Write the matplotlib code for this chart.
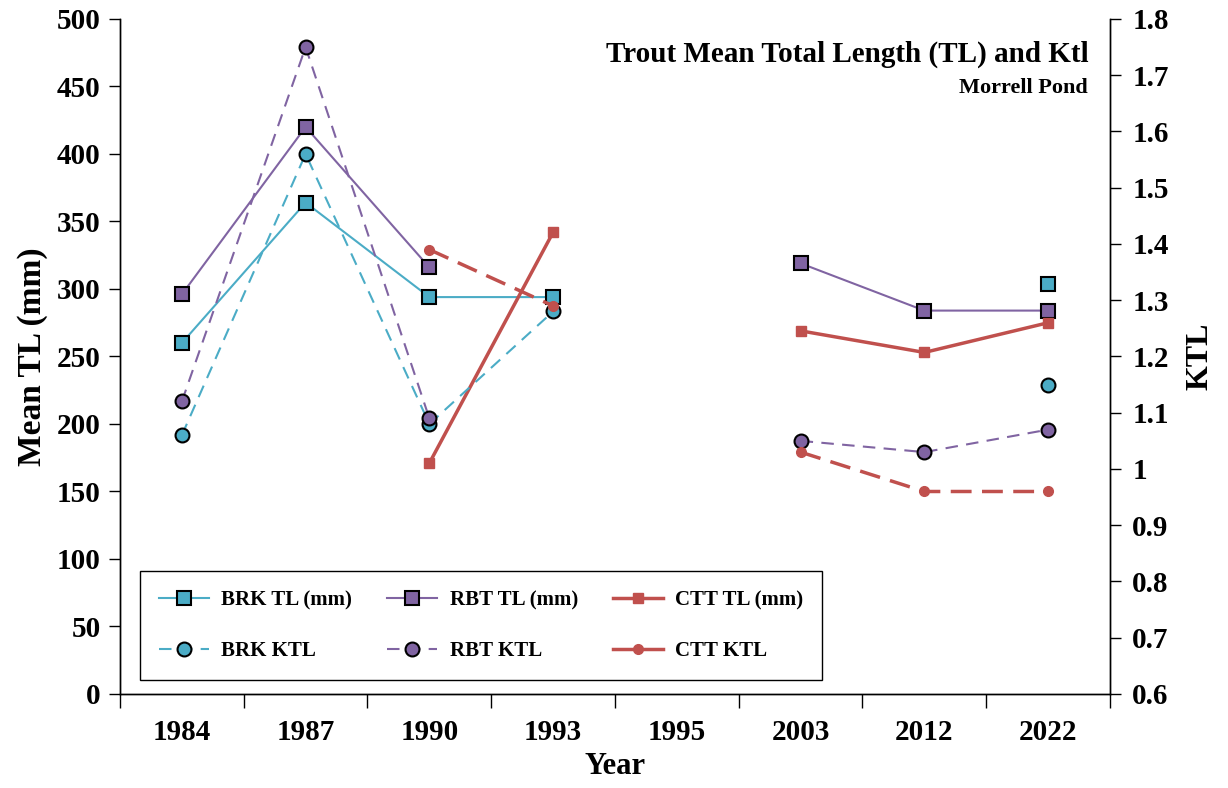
import numpy as np
import matplotlib
matplotlib.use("Agg")
import matplotlib.pyplot as plt
from matplotlib.lines import Line2D
from matplotlib.ticker import MultipleLocator, FuncFormatter

plt.rcParams["font.family"] = ["Liberation Serif", "DejaVu Serif"]
plt.rcParams["font.weight"] = "bold"

years = ["1984", "1987", "1990", "1993", "1995", "2003", "2012", "2022"]
nan = np.nan

# mean total length (mm), left axis
brk_tl = [260, 364, 294, 294, nan, nan, nan, 304]
rbt_tl = [296, 420, 316, nan, nan, 319, 284, 284]
ctt_tl = [nan, nan, 171, 342, nan, 269, 253, 275]

# condition factor KTL, right axis
brk_ktl = [1.06, 1.56, 1.08, 1.28, nan, nan, nan, 1.15]
rbt_ktl = [1.12, 1.75, 1.09, nan, nan, 1.05, 1.03, 1.07]
ctt_ktl = [nan, nan, 1.39, 1.29, nan, 1.03, 0.96, 0.96]

BRK = "#4BACC6"
RBT = "#8064A2"
CTT = "#C0504D"

fig = plt.figure(figsize=(12.28, 7.88), dpi=100)
ax = fig.add_axes([0.0977, 0.1193, 0.8062, 0.8566])
ax2 = ax.twinx()

x = np.arange(len(years))

ax.plot(x, brk_tl, color=BRK, lw=1.5, marker="s", ms=10, mfc=BRK, mec="black", mew=1.5)
ax.plot(x, rbt_tl, color=RBT, lw=1.5, marker="s", ms=10, mfc=RBT, mec="black", mew=1.5)
ax.plot(x, ctt_tl, color=CTT, lw=2.5, marker="s", ms=7, mfc=CTT, mec=CTT)

ax2.plot(x, brk_ktl, color=BRK, lw=1.5, ls=(0, (6, 4)), marker="o", ms=10, mfc=BRK, mec="black", mew=1.5)
ax2.plot(x, rbt_ktl, color=RBT, lw=1.5, ls=(0, (6, 4)), marker="o", ms=10, mfc=RBT, mec="black", mew=1.5)
ax2.plot(x, ctt_ktl, color=CTT, lw=2.5, ls=(0, (6, 3)), marker="o", ms=7, mfc=CTT, mec=CTT)

ax.set_xlim(-0.5, len(years) - 0.5)
ax.set_ylim(0, 500)
ax2.set_ylim(0.6, 1.8)

ax.set_xticks(x)
ax.set_xticklabels(years)
ax.set_xticks(np.arange(-0.5, len(years), 1.0), minor=True)
ax.tick_params(axis="x", which="major", length=0, pad=18, labelsize=21)
ax.tick_params(axis="x", which="minor", length=10, width=1, direction="out")
ax.yaxis.set_major_locator(MultipleLocator(50))
ax.tick_params(axis="y", length=8, width=1, labelsize=21, pad=6)
ax2.yaxis.set_major_locator(MultipleLocator(0.1))
ax2.yaxis.set_major_formatter(FuncFormatter(lambda v, p: f"{v:.1f}".rstrip("0").rstrip(".")))
ax2.tick_params(axis="y", length=8, width=1, labelsize=21, pad=8)

for a in (ax, ax2):
    a.spines["top"].set_visible(False)
    for s in a.spines.values():
        s.set_linewidth(1)

ax.set_xlabel("Year", fontsize=22, fontweight="bold", labelpad=4)
ax.set_ylabel("Mean TL (mm)", fontsize=24, fontweight="bold", labelpad=6)
ax2.set_ylabel("KTL", fontsize=23, fontweight="bold", labelpad=12)

ax2.text(0.978, 0.968, "Trout Mean Total Length (TL) and Ktl", transform=ax.transAxes,
         ha="right", va="top", fontsize=21, fontweight="bold")
ax2.text(0.978, 0.913, "Morrell Pond", transform=ax.transAxes,
         ha="right", va="top", fontsize=16, fontweight="bold")

handles = [
    Line2D([], [], color=BRK, lw=1.5, marker="s", ms=10, mfc=BRK, mec="black", mew=1.5),
    Line2D([], [], color=BRK, lw=1.5, ls=(0, (6, 4)), marker="o", ms=10, mfc=BRK, mec="black", mew=1.5),
    Line2D([], [], color=RBT, lw=1.5, marker="s", ms=10, mfc=RBT, mec="black", mew=1.5),
    Line2D([], [], color=RBT, lw=1.5, ls=(0, (6, 4)), marker="o", ms=10, mfc=RBT, mec="black", mew=1.5),
    Line2D([], [], color=CTT, lw=2.5, marker="s", ms=7, mfc=CTT, mec=CTT),
    Line2D([], [], color=CTT, lw=2.5, marker="o", ms=7, mfc=CTT, mec=CTT),
]
labels = ["BRK TL (mm)", "BRK KTL", "RBT TL (mm)", "RBT KTL", "CTT TL (mm)", "CTT KTL"]
leg = ax2.legend(handles, labels, ncol=3, loc="lower left",
                 bbox_to_anchor=(0.0202, 0.0207, 0.689, 0.157), mode="expand",
                 borderaxespad=0, fancybox=False, edgecolor="black", framealpha=1,
                 prop={"size": 15, "weight": "bold"}, handlelength=2.4,
                 labelspacing=1.5, borderpad=0.9, columnspacing=1.0, handletextpad=0.6)
leg.get_frame().set_linewidth(1)

fig.savefig("out.png", dpi=100)
